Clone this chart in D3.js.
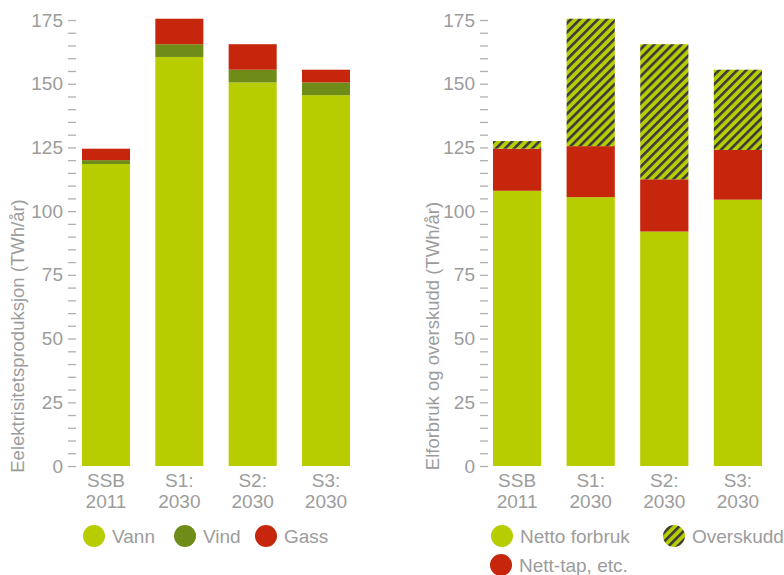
<!DOCTYPE html>
<html>
<head>
<meta charset="utf-8">
<script src="https://cdn.jsdelivr.net/npm/d3@7"></script>
<style>
  body { margin: 0; background: #fff; }
  text { font-family: "Liberation Sans", Arial, sans-serif; fill: #9c9c9c; }
</style>
</head>
<body>
<svg id="chart" width="784" height="575"></svg>
<script>
// categories (two-line labels)
const categories = ["SSB 2011", "S1: 2030", "S2: 2030", "S3: 2030"];
const catLines = [["SSB", "2011"], ["S1:", "2030"], ["S2:", "2030"], ["S3:", "2030"]];

// left chart: elektrisitetsproduksjon
const vann = [118.5, 160.5, 150.5, 145.5];
const vind = [1.5, 5, 5, 5];
const gass = [4.5, 10, 10, 5];

// right chart: forbruk og overskudd
const netto = [108, 105.5, 92, 104.5];
const nettTap = [16.5, 20, 20.5, 19.5];
const overskudd = [3, 50, 53, 31.5];

const yMajor = [0, 25, 50, 75, 100, 125, 150, 175];

const GREEN = "#b8cd00", OLIVE = "#6f8b18", RED = "#c5260c";

const svg = d3.select("#chart");

// stripe pattern for "Overskudd"
const defs = svg.append("defs");
const pat = defs.append("pattern")
    .attr("id", "hatch")
    .attr("patternUnits", "userSpaceOnUse")
    .attr("width", 6.4)
    .attr("height", 10)
    .attr("patternTransform", "rotate(45)");
pat.append("rect").attr("width", 6.4).attr("height", 10).attr("fill", GREEN);
pat.append("rect").attr("width", 2.6).attr("height", 10).attr("fill", "#3b3b3b");

const y = d3.scaleLinear().domain([0, 175]).range([466, 20]);

function drawChart(opts) {
    const g = svg.append("g");
    const x = d3.scaleBand().domain(categories).range(opts.xRange).paddingInner(0.345).paddingOuter(0);

    // minor ticks
    const minor = d3.range(0, 176, 5).filter(v => v % 25 !== 0);
    g.append("g")
        .attr("transform", `translate(${opts.axisX},0)`)
        .call(d3.axisLeft(y).tickValues(minor).tickSize(8).tickFormat(""))
        .call(a => a.select(".domain").remove())
        .call(a => a.selectAll("line").attr("stroke", "#b0b0b0").attr("stroke-width", 1.3));

    // major ticks + labels
    g.append("g")
        .attr("transform", `translate(${opts.axisX},0)`)
        .call(d3.axisLeft(y).tickValues(yMajor).tickSize(8).tickPadding(5))
        .call(a => a.select(".domain").remove())
        .call(a => a.selectAll("line").attr("stroke", "#b0b0b0").attr("stroke-width", 1.3))
        .call(a => a.selectAll("text")
            .attr("fill", "#9c9c9c")
            .style("font-size", "19px")
            .style("font-family", "Liberation Sans, Arial, sans-serif"));

    // stacked bars
    const rows = categories.map((c, i) => {
        const r = { cat: c };
        opts.series.forEach(s => { r[s.key] = s.values[i]; });
        return r;
    });
    const stack = d3.stack().keys(opts.series.map(s => s.key))(rows);
    stack.forEach((layer, li) => {
        g.append("g")
            .attr("fill", opts.series[li].fill)
            .selectAll("rect")
            .data(layer)
            .enter()
            .append("rect")
            .attr("x", d => x(d.data.cat))
            .attr("y", d => y(d[1]))
            .attr("width", x.bandwidth())
            .attr("height", d => y(d[0]) - y(d[1]));
    });

    // category labels
    const lab = g.append("g").selectAll("text")
        .data(categories)
        .enter()
        .append("text")
        .attr("text-anchor", "middle")
        .style("font-size", "19px")
        .attr("x", d => x(d) + x.bandwidth() / 2);
    lab.each(function (d, i) {
        const t = d3.select(this);
        t.append("tspan").attr("x", x(d) + x.bandwidth() / 2).attr("y", 487).text(catLines[i][0]);
        t.append("tspan").attr("x", x(d) + x.bandwidth() / 2).attr("y", 508).text(catLines[i][1]);
    });

    // y axis title
    g.append("text")
        .attr("transform", `translate(${opts.titleX},336) rotate(-90)`)
        .attr("text-anchor", "middle")
        .attr("dy", "0.35em")
        .style("font-size", "18.5px")
        .text(opts.title);

    // legend
    const leg = g.append("g");
    opts.legend.forEach(l => {
        leg.append("circle").attr("cx", l.cx).attr("cy", l.cy).attr("r", 11).attr("fill", l.fill);
        leg.append("text")
            .attr("x", l.cx + 18)
            .attr("y", l.cy)
            .attr("dy", "0.35em")
            .style("font-size", "19px")
            .text(l.label);
    });
}

drawChart({
    xRange: [82, 350],
    axisX: 76,
    titleX: 18,
    title: "Eelektrisitetsproduksjon (TWh/år)",
    series: [
        { key: "Vann", values: vann, fill: GREEN },
        { key: "Vind", values: vind, fill: OLIVE },
        { key: "Gass", values: gass, fill: RED }
    ],
    legend: [
        { label: "Vann", fill: GREEN, cx: 94, cy: 536 },
        { label: "Vind", fill: OLIVE, cx: 185, cy: 536 },
        { label: "Gass", fill: RED, cx: 266, cy: 536 }
    ]
});

drawChart({
    xRange: [493, 762],
    axisX: 488,
    titleX: 433,
    title: "Elforbruk og overskudd (TWh/år)",
    series: [
        { key: "Netto forbruk", values: netto, fill: GREEN },
        { key: "Nett-tap, etc.", values: nettTap, fill: RED },
        { key: "Overskudd", values: overskudd, fill: "url(#hatch)" }
    ],
    legend: [
        { label: "Netto forbruk", fill: GREEN, cx: 502, cy: 536 },
        { label: "Overskudd", fill: "url(#hatch)", cx: 674, cy: 536 },
        { label: "Nett-tap, etc.", fill: RED, cx: 501, cy: 565 }
    ]
});
</script>
</body>
</html>
